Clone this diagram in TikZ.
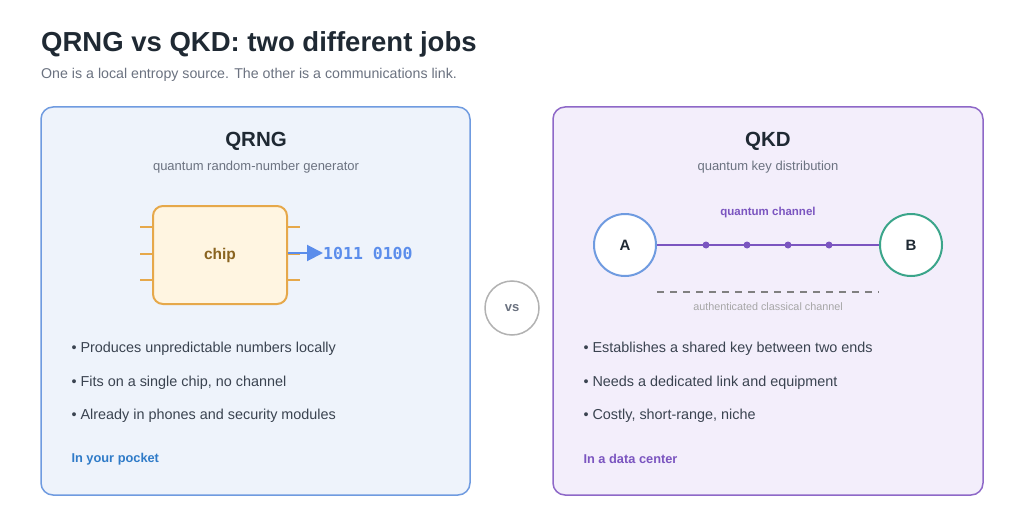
\documentclass[tikz,border=0pt]{standalone}
\usepackage{fontspec}
\setmainfont{Liberation Sans}
\setmonofont{DejaVu Sans Mono}
\usetikzlibrary{arrows.meta}
\definecolor{ink}{HTML}{1F2933}
\definecolor{sub}{HTML}{6B7280}
\definecolor{body}{HTML}{3A4350}
\definecolor{lblue}{HTML}{EEF3FB}
\definecolor{bblue}{HTML}{6F9BE0}
\definecolor{lpurp}{HTML}{F3EEFB}
\definecolor{bpurp}{HTML}{8E68C8}
\definecolor{purp}{HTML}{7B55C0}
\definecolor{chiporange}{HTML}{E6A84A}
\definecolor{chipfill}{HTML}{FFF5E1}
\definecolor{chiptxt}{HTML}{8A6420}
\definecolor{arrblue}{HTML}{5B8DEB}
\definecolor{green}{HTML}{3BA58A}
\definecolor{foot}{HTML}{2F7BC8}
\begin{document}
\begin{tikzpicture}[x=1pt,y=-1pt,
  card/.style={rounded corners=12pt,line width=1.5pt},
  bul/.style={anchor=west,font=\fontsize{14.4}{16}\selectfont,text=body},
  chippin/.style={fill=chiporange},
  dot/.style={circle,fill=purp,inner sep=0pt,minimum size=7pt},
  ep/.style={circle,draw,line width=2pt,fill=white,minimum size=62pt,inner sep=0pt,font=\bfseries\fontsize{15}{17}\selectfont,text=ink}]
\useasboundingbox (0,0) rectangle (1024,532);
\fill[white] (0,0) rectangle (1024,532);
\node[anchor=west,inner sep=0pt,font=\bfseries\fontsize{27.5}{32}\selectfont,text=ink] (title) at (41,44) {QRNG vs QKD: two different jobs};
\node[anchor=west,inner sep=0pt,font=\fontsize{14.2}{16}\selectfont,text=sub] (subt) at (41,75) {One is a local entropy source. The other is a communications link.};
\draw[card,fill=lblue,draw=bblue] (41,107) rectangle (470,495);
\draw[card,fill=lpurp,draw=bpurp] (553,107) rectangle (983,495);
\node[font=\bfseries\fontsize{20.5}{24}\selectfont,text=ink] (t1) at (256,141) {QRNG};
\node[font=\fontsize{13}{15}\selectfont,text=sub] (s1) at (256,167) {quantum random-number generator};
\node[font=\bfseries\fontsize{20.5}{24}\selectfont,text=ink] (t2) at (768,141) {QKD};
\node[font=\fontsize{13}{15}\selectfont,text=sub] (s2) at (768,167) {quantum key distribution};
% chip
\foreach \y in {227,254,280}{\fill[chippin] (140,\y-1.4) rectangle (154,\y+1.4); \fill[chippin] (286,\y-1.4) rectangle (300,\y+1.4);}
\node[draw=chiporange,fill=chipfill,line width=2pt,rounded corners=10pt,minimum width=134pt,minimum height=98pt,font=\bfseries\fontsize{15.5}{17}\selectfont,text=chiptxt] (chip) at (220,255) {chip};
\node[anchor=west,inner sep=0pt,font=\ttfamily\bfseries\fontsize{16.5}{18}\selectfont,text=arrblue] (bits) at (323,253) {1011 0100};
\draw[arrblue,line width=2pt,-{Triangle[length=16pt,width=16pt]}] (chip.east|-bits.west) -- (bits.west);
% vs
\node[circle,draw=gray!60,line width=1.5pt,fill=white,minimum size=54pt,inner sep=0pt,font=\bfseries\fontsize{13}{15}\selectfont,text=sub] (vs) at (512,308) {vs};
% QKD
\node[ep,draw=bblue] (A) at (625,245) {A};
\node[ep,draw=green] (B) at (911,245) {B};
\draw[purp,line width=2pt] (A) -- (B);
\foreach \x/\n in {706/d1,747/d2,788/d3,829/d4}{\node[dot] (\n) at (\x,245) {};}
\node[font=\bfseries\fontsize{11.5}{14}\selectfont,text=purp] (qc) at (768,213) {quantum channel};
\coordinate (c1) at (657,292); \coordinate (c2) at (879,292);
\draw[gray,line width=1.5pt,dash pattern=on 7pt off 6pt] (c1) -- (c2);
\node[font=\fontsize{10.8}{13}\selectfont,text=gray!70] (cc) at (768,307) {authenticated classical channel};
% bullets
\node[bul] (l1) at (68,349) {\textbullet\ Produces unpredictable numbers locally};
\node[bul] (l2) at (68,383) {\textbullet\ Fits on a single chip, no channel};
\node[bul] (l3) at (68,416) {\textbullet\ Already in phones and security modules};
\node[bul] (r1) at (580,349) {\textbullet\ Establishes a shared key between two ends};
\node[bul] (r2) at (580,383) {\textbullet\ Needs a dedicated link and equipment};
\node[bul] (r3) at (580,416) {\textbullet\ Costly, short-range, niche};
\node[anchor=west,font=\bfseries\fontsize{12.8}{15}\selectfont,text=foot] (f1) at (68,459) {In your pocket};
\node[anchor=west,font=\bfseries\fontsize{12.8}{15}\selectfont,text=purp] (f2) at (580,459) {In a data center};
\end{tikzpicture}
\end{document}
